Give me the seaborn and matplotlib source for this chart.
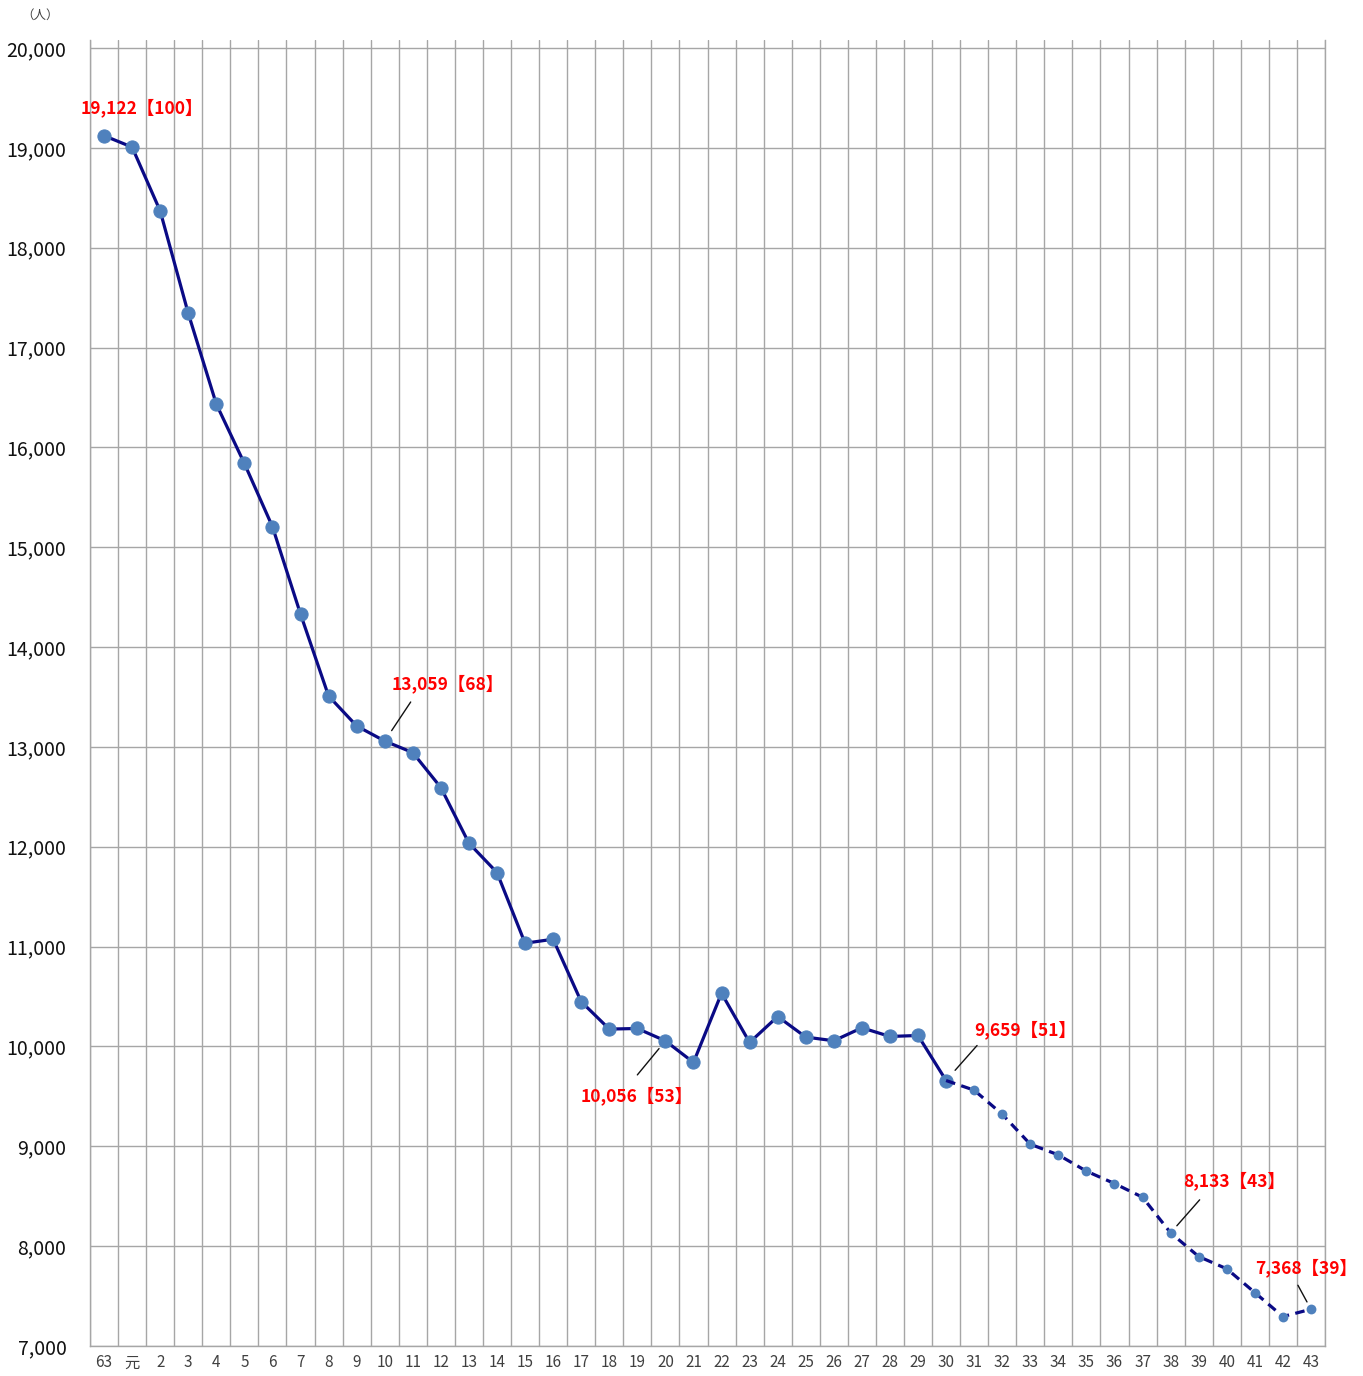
import matplotlib
matplotlib.use("Agg")
import matplotlib.pyplot as plt
import seaborn as sns
import pandas as pd
import numpy as np

# ---- data ----
years = ["63", "元"] + [str(i) for i in range(2, 44)]
values = [19122, 19007, 18368, 17343, 16434, 15839, 15206, 14331, 13510, 13210,
          13059, 12943, 12593, 12036, 11742, 11034, 11074, 10449, 10174, 10180,
          10056, 9840, 10533, 10040, 10300, 10094, 10057, 10187, 10100, 10110,
          9659, 9562, 9321, 9021, 8914, 8751, 8627, 8490, 8133, 7896,
          7773, 7535, 7295, 7368]
actual_last = "30"  # solid up to here, projection (dashed) afterwards
y_ticks = list(range(7000, 20001, 1000))

# annotations: (year label, text)
ann_years = ["63", "10", "20", "30", "38", "43"]
ann_texts = ["19,122【100】", "13,059【68】", "10,056【53】", "9,659【51】", "8,133【43】", "7,368【39】"]

# ---- styling / layout ----
sns.set_theme(style="white")
plt.rcParams["font.family"] = ["Noto Sans CJK JP", "DejaVu Sans"]

df = pd.DataFrame({"x": np.arange(len(years)), "year": years, "value": values})
cut = years.index(actual_last)
df_actual = df.iloc[:cut + 1]
df_proj = df.iloc[cut:]

fig = plt.figure(figsize=(13.63, 13.76), dpi=100)
ax = fig.add_axes([90 / 1363, 1 - 1346 / 1376, (1325 - 90) / 1363, (1346 - 40) / 1376])

line_c = "#0a0a85"
mark_c = "#4f81bd"

sns.lineplot(data=df_actual, x="x", y="value", ax=ax, color=line_c, lw=2.3,
             marker="o", markersize=9.5, markerfacecolor=mark_c, markeredgecolor=mark_c,
             zorder=3)
sns.lineplot(data=df_proj, x="x", y="value", ax=ax, color=line_c, lw=2.3,
             zorder=3)
ax.lines[-1].set_dashes((3, 2))
sns.scatterplot(data=df_proj.iloc[1:], x="x", y="value", ax=ax, color=mark_c,
                s=50, edgecolor=mark_c, linewidth=0, zorder=4)

ax.set_xlim(-0.5, len(years) - 0.5)
ax.set_ylim(7000, 20080)
ax.set_yticks(y_ticks)
ax.set_yticklabels([f"{v:,}" for v in y_ticks], fontsize=14, color="#111111")
ax.set_xticks(df["x"])
ax.set_xticklabels(years, fontsize=11, color="#404040")
ax.set_xticks(np.arange(-0.5, len(years), 1.0), minor=True)
ax.tick_params(axis="both", which="both", length=0)
ax.tick_params(axis="y", pad=17)
ax.tick_params(axis="x", pad=6)
ax.set_xlabel("")
ax.set_ylabel("")

grid_c = "#a6a6a6"
ax.grid(False)
ax.yaxis.grid(True, which="major", color=grid_c, lw=1.0)
ax.xaxis.grid(True, which="minor", color=grid_c, lw=1.0)
ax.set_axisbelow(True)
for side in ["left", "right", "bottom"]:
    ax.spines[side].set_color(grid_c)
    ax.spines[side].set_linewidth(1.0)
ax.spines["top"].set_visible(False)

# annotations (offsets in points from the data point)
text_off = {"63": (27.4, 20.2), "10": (45.4, 41.0), "20": (-20.9, -39.6),
            "30": (56.9, 36.7), "38": (45.4, 37.4), "43": (-3.6, 30.2)}
line_off = {"10": ((18.7, 28.1), 9), "20": ((-20.2, -24.5), 7.2),
            "30": ((22.3, 25.2), 9.8), "38": ((20.9, 23.8), 6.8),
            "43": ((-9.4, 17.3), 6)}
for yr, txt in zip(ann_years, ann_texts):
    i = years.index(yr)
    pt = (i, values[i])
    ax.annotate(txt, xy=pt, xytext=text_off[yr], textcoords="offset points",
                ha="center", va="center", color="#ff0000", fontsize=12.5,
                fontweight="bold", zorder=5)
    if yr in line_off:
        end, gap = line_off[yr]
        ax.annotate("", xy=pt, xytext=end, textcoords="offset points",
                    arrowprops=dict(arrowstyle="-", color="#111111", lw=1.0,
                                    shrinkA=0, shrinkB=gap), zorder=5)

fig.text(40 / 1363, 1 - 15 / 1376, "（人）", fontsize=9, color="#404040",
         ha="center", va="center")

fig.savefig("out.png", dpi=100, facecolor="white")
